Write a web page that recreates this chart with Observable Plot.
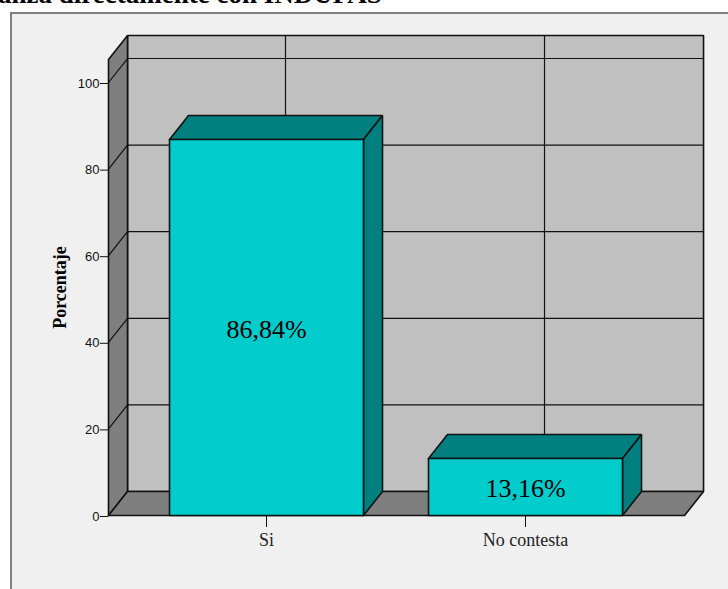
<!DOCTYPE html>
<html>
<head>
<meta charset="utf-8">
<script src="https://cdn.jsdelivr.net/npm/d3@7"></script>
<script src="https://cdn.jsdelivr.net/npm/@observablehq/plot@0.6"></script>
<style>
  html, body { margin: 0; padding: 0; background: #fff; width: 728px; height: 589px; overflow: hidden; }
  #heading { position: absolute; left: -2px; top: -21px; width: 740px;
    font: bold 27px "Liberation Serif", serif; white-space: nowrap; color: #000; }
  #panel { position: absolute; left: 10px; top: 12px; right: -4px; bottom: -4px;
    background: #f0f0f0; border: 2px solid #808080; }
  #chart { position: absolute; left: 0; top: 0; }
  #chart svg { background: transparent; overflow: visible; }
</style>
</head>
<body>
<div id="heading">anza directamente con INDUFAS</div>
<div id="panel"></div>
<div id="chart"></div>
<script>
// Response categories and their percentages
const categories = ["Si", "No contesta"];
const percentages = [86.84, 13.16];
const yTicks = [0, 20, 40, 60, 80, 100];
const valueLabels = ["86,84%", "13,16%"];

// Extents of the 3D box, in x-category and percentage units
const wallLeft = -0.61, wallRight = 1.614, wallTop = 105.3;
const depthX = 0.0734, depthY = 5.54, barHalf = 0.3745;

const steel = "#7f7f7f", wall = "#c0c0c0", barFront = "#00cccc", barShade = "#007f7f";

// Closed polygon helper: each face becomes a z-grouped line
let faceId = 0;
const face = (...pts) => {
  const id = faceId++;
  return [...pts, pts[0]].map(([x, y]) => ({x, y, id}));
};
const faces = (list, fill, strokeWidth = 1.6) =>
  Plot.line(list.flat(), {x: "x", y: "y", z: "id", fill, stroke: "#111", strokeWidth, strokeLinejoin: "miter"});
const seg = (x1, y1, x2, y2) => ({x1, y1, x2, y2});

const backTop = wallTop + depthY;
const backWall = face([wallLeft + depthX, depthY], [wallRight + depthX, depthY],
  [wallRight + depthX, backTop], [wallLeft + depthX, backTop]);
const sideWall = face([wallLeft, 0], [wallLeft + depthX, depthY], [wallLeft + depthX, backTop], [wallLeft, wallTop]);
const floor = face([wallLeft, 0], [wallRight, 0], [wallRight + depthX, depthY], [wallLeft + depthX, depthY]);

const gridH = yTicks.slice(1).map(v => seg(wallLeft + depthX, v + depthY, wallRight + depthX, v + depthY));
const gridSide = yTicks.slice(1).map(v => seg(wallLeft, v, wallLeft + depthX, v + depthY));
const gridV = categories.map((c, i) => seg(i + depthX, depthY, i + depthX, backTop));

const barFaces = percentages.map((v, i) => ({
  top: face([i - barHalf, v], [i + barHalf, v], [i + barHalf + depthX, v + depthY], [i - barHalf + depthX, v + depthY]),
  side: face([i + barHalf, 0], [i + barHalf + depthX, depthY], [i + barHalf + depthX, v + depthY], [i + barHalf, v]),
  front: face([i - barHalf, 0], [i + barHalf, 0], [i + barHalf, v], [i - barHalf, v])
}));

const labelRows = percentages.map((v, i) => ({i, y: v / 2, text: valueLabels[i]}));

const chart = Plot.plot({
  width: 728,
  height: 589,
  marginLeft: 108,
  marginRight: 25,
  marginTop: 59,
  marginBottom: 74,
  style: {background: "transparent"},
  x: {domain: [0, 1], range: [266, 525]},
  y: {domain: [0, 100], range: [515, 82]},
  marks: [
    faces([backWall], wall),
    Plot.link(gridH, {x1: "x1", y1: "y1", x2: "x2", y2: "y2", stroke: "#111", strokeWidth: 1.2}),
    Plot.link(gridV, {x1: "x1", y1: "y1", x2: "x2", y2: "y2", stroke: "#111", strokeWidth: 1.2}),
    faces([sideWall, floor], steel),
    Plot.link(gridSide, {x1: "x1", y1: "y1", x2: "x2", y2: "y2", stroke: "#111", strokeWidth: 1.2}),
    ...barFaces.flatMap(b => [
      faces([b.top, b.side], barShade),
      faces([b.front], barFront)
    ]),
    Plot.text(labelRows, {
      x: "i", y: "y", text: "text", dy: 2, fontSize: 26, fill: "#000",
      fontFamily: "Liberation Serif"
    }),
    Plot.axisY({
      ticks: yTicks, tickSize: 8, tickPadding: 1, fontSize: 13, dy: 1,
      fontFamily: "Liberation Sans", stroke: "#111", color: "#111",
      label: null
    }),
    Plot.axisX({
      ticks: [0, 1], tickFormat: i => categories[i], tickSize: 12, tickPadding: 6,
      fontSize: 18, fontFamily: "Liberation Serif", stroke: "#111", color: "#222",
      label: null
    }),
    Plot.axisY({
      ticks: [], label: "Porcentaje", labelAnchor: "center", labelArrow: "none",
      labelOffset: 55, fontSize: 18, fontWeight: "bold", fontFamily: "Liberation Serif", color: "#000"
    })
  ]
});
document.getElementById("chart").append(chart);
</script>
</body>
</html>
